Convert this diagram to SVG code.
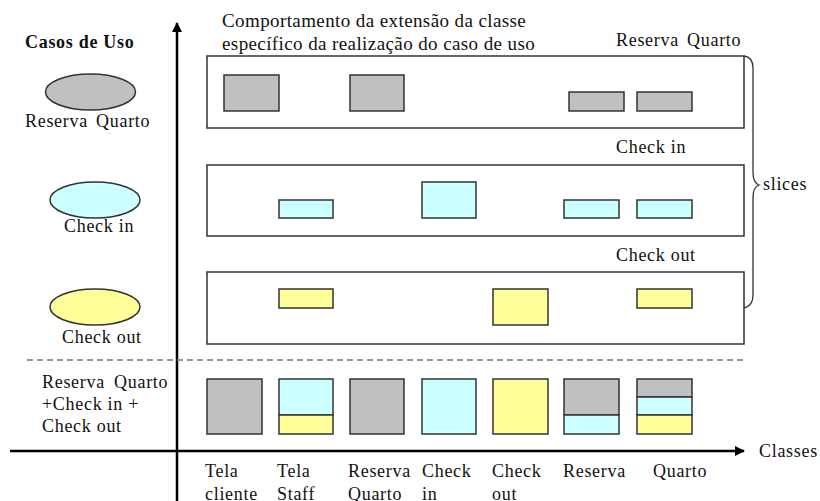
<svg xmlns="http://www.w3.org/2000/svg" width="820" height="501" viewBox="0 0 820 501">
<style>
  text { font-family: "Liberation Serif", "Times New Roman", serif; font-size: 18px; letter-spacing: 0.7px; fill: #111; }
  .head { font-size: 19px; letter-spacing: 0.4px; }
  .slice { fill: #fff; stroke: #333; stroke-width: 1.5; }
  .c { stroke: #333; stroke-width: 1.5; }
  .g { fill: #c0c0c0; }
  .b { fill: #ccffff; }
  .y { fill: #ffff99; }
  .axis { stroke: #000; stroke-width: 2.5; fill: none; }
</style>
<defs>
  <marker id="arrow" markerWidth="10" markerHeight="10" refX="9" refY="5" orient="auto" markerUnits="userSpaceOnUse">
    <path d="M0,0 L10,5 L0,10 Z" fill="#000"/>
  </marker>
</defs>
<rect width="820" height="501" fill="#fff"/>

<!-- use cases column -->
<g id="uc-title"><text x="25" y="48" font-weight="bold">Casos de Uso</text></g>
<g id="uc-reserva">
  <ellipse cx="90.5" cy="92" rx="45" ry="18" class="c g"/>
  <text x="25" y="127" word-spacing="3">Reserva Quarto</text>
</g>
<g id="uc-checkin">
  <ellipse cx="95" cy="200" rx="45" ry="18" class="c b"/>
  <text x="64" y="232">Check in</text>
</g>
<g id="uc-checkout">
  <ellipse cx="95" cy="307" rx="45" ry="18" class="c y"/>
  <text x="62" y="343">Check out</text>
</g>
<g id="uc-combined">
  <text x="42" y="388" word-spacing="4">Reserva Quarto</text>
  <text x="42" y="410">+Check in +</text>
  <text x="42" y="432">Check out</text>
</g>

<!-- axes, separator and brace -->
<g id="connectors">
  <line x1="177" y1="501" x2="177" y2="23" class="axis" marker-end="url(#arrow)"/>
  <line x1="10" y1="451" x2="744" y2="451" class="axis" marker-end="url(#arrow)"/>
  <line x1="27" y1="360" x2="744" y2="360" stroke="#777" stroke-width="1.5" stroke-dasharray="6,4"/>
  <path d="M744,56 Q753,57 753,68 L753,172 Q753,183 759,185 Q753,187 753,198 L753,295 Q753,306 744,308" fill="none" stroke="#333" stroke-width="1.3"/>
</g>

<g id="header">
  <text class="head" x="222" y="27">Comportamento da extensão da classe</text>
  <text class="head" x="222" y="50">específico da realização do caso de uso</text>
</g>

<!-- slice: Reserva Quarto -->
<g id="slice-reserva">
  <text x="616" y="46" word-spacing="3">Reserva Quarto</text>
  <rect x="207" y="56" width="537" height="72" class="slice"/>
  <rect x="224" y="75" width="55" height="36" class="c g"/>
  <rect x="350" y="75" width="54" height="36" class="c g"/>
  <rect x="569" y="92" width="55" height="19" class="c g"/>
  <rect x="637" y="92" width="55" height="19" class="c g"/>
</g>

<!-- slice: Check in -->
<g id="slice-checkin">
  <text x="616" y="153">Check in</text>
  <rect x="207" y="165" width="537" height="71" class="slice"/>
  <rect x="279" y="200" width="54" height="18" class="c b"/>
  <rect x="422" y="182" width="54" height="36" class="c b"/>
  <rect x="564" y="200" width="55" height="18" class="c b"/>
  <rect x="637" y="200" width="55" height="18" class="c b"/>
</g>

<!-- slice: Check out -->
<g id="slice-checkout">
  <text x="616" y="261">Check out</text>
  <rect x="207" y="272" width="537" height="72" class="slice"/>
  <rect x="279" y="289" width="54" height="19" class="c y"/>
  <rect x="493" y="289" width="55" height="36" class="c y"/>
  <rect x="637" y="289" width="55" height="19" class="c y"/>
</g>

<g id="slices-label"><text x="763" y="190">slices</text></g>

<!-- composed classes -->
<g id="class-tela-cliente">
  <rect x="207" y="379" width="55" height="55" class="c g"/>
  <text x="205" y="477">Tela</text><text x="205" y="500">cliente</text>
</g>
<g id="class-tela-staff">
  <rect x="279" y="379" width="54" height="36" class="c b"/>
  <rect x="279" y="415" width="54" height="19" class="c y"/>
  <text x="277" y="477">Tela</text><text x="277" y="500">Staff</text>
</g>
<g id="class-reserva-quarto">
  <rect x="350" y="379" width="54" height="55" class="c g"/>
  <text x="348" y="477">Reserva</text><text x="348" y="500">Quarto</text>
</g>
<g id="class-check-in">
  <rect x="422" y="379" width="54" height="55" class="c b"/>
  <text x="422" y="477">Check</text><text x="422" y="500">in</text>
</g>
<g id="class-check-out">
  <rect x="493" y="379" width="55" height="55" class="c y"/>
  <text x="492" y="477">Check</text><text x="492" y="500">out</text>
</g>
<g id="class-reserva">
  <rect x="564" y="379" width="55" height="36" class="c g"/>
  <rect x="564" y="415" width="55" height="19" class="c b"/>
  <text x="563" y="477">Reserva</text>
</g>
<g id="class-quarto">
  <rect x="637" y="379" width="55" height="18" class="c g"/>
  <rect x="637" y="397" width="55" height="18" class="c b"/>
  <rect x="637" y="415" width="55" height="19" class="c y"/>
  <text x="653" y="477">Quarto</text>
</g>
<g id="axis-label"><text x="759" y="457">Classes</text></g>
</svg>
